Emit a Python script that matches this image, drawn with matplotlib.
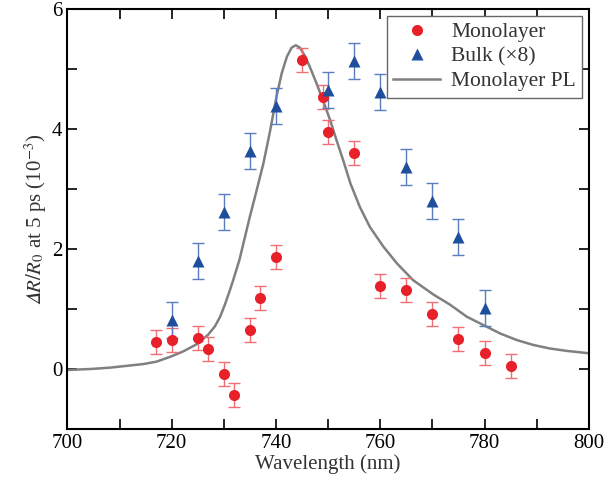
import numpy as np
import matplotlib
matplotlib.use('agg')
import matplotlib.pyplot as plt

plt.rcParams['font.family'] = ['Liberation Serif', 'DejaVu Serif']
plt.rcParams['mathtext.fontset'] = 'stix'

# monolayer pump-probe signal
mono_wl = [717, 720, 725, 727, 730, 732, 735, 737, 740, 745, 749, 750, 755,
           760, 765, 770, 775, 780, 785]
mono_val = [0.44, 0.48, 0.52, 0.33, -0.08, -0.43, 0.64, 1.19, 1.87, 5.16, 4.53,
            3.95, 3.61, 1.39, 1.31, 0.92, 0.50, 0.26, 0.04]
mono_err = [0.2] * len(mono_wl)

# bulk signal (x8)
bulk_wl = [720, 725, 730, 735, 740, 750, 755, 760, 765, 770, 775, 780]
bulk_val = [0.82, 1.80, 2.61, 3.64, 4.38, 4.65, 5.14, 4.62, 3.37, 2.80, 2.20, 1.01]
bulk_err = [0.3] * len(bulk_wl)

# monolayer PL (scaled)
pl_wl = [700, 705, 708.2, 711.4, 714.6, 717.1, 720, 722.2, 724.8, 727, 728.3,
         729.3, 730.2, 731.2, 731.8, 733, 735, 736.3, 737.6, 738.9, 740.1,
         741.1, 742.1, 743.0, 743.8, 744.6, 745.5, 746.5, 747.8, 749.1, 750.4,
         751.6, 752.9, 754.3, 756.1, 758.0, 760.6, 763.2, 766.3, 770.2, 773.4,
         776.6, 779.8, 783, 786.2, 789.3, 792.5, 795.7, 800]
pl_val = [-0.02, 0.0, 0.02, 0.05, 0.08, 0.12, 0.21, 0.29, 0.41, 0.57, 0.71,
          0.87, 1.07, 1.32, 1.48, 1.82, 2.54, 2.98, 3.43, 3.98, 4.54,
          4.93, 5.21, 5.36, 5.40, 5.36, 5.23, 5.04, 4.76, 4.46, 4.15,
          3.82, 3.48, 3.09, 2.70, 2.37, 2.04, 1.76, 1.48, 1.24, 1.07,
          0.87, 0.73, 0.59, 0.48, 0.40, 0.34, 0.30, 0.26]

red = '#e8202a'
red_err = '#ef6f74'
blue = '#1f4e9c'
blue_err = '#5a7dbf'

fig = plt.figure(figsize=(6.07, 4.90), dpi=100)
ax = fig.add_axes([0.111, 0.125, 0.859, 0.856])

pl_line, = ax.plot(pl_wl, pl_val, color='#808080', lw=1.8, label='Monolayer PL',
                   zorder=2, solid_joinstyle='round')

ax.errorbar(mono_wl, mono_val, yerr=mono_err, fmt='none', ecolor=red_err,
            elinewidth=1.0, capsize=4, capthick=1.0, zorder=3)
ax.errorbar(bulk_wl, bulk_val, yerr=bulk_err, fmt='none', ecolor=blue_err,
            elinewidth=1.0, capsize=4, capthick=1.0, zorder=3)
mono_pts, = ax.plot(mono_wl, mono_val, 'o', color=red, ms=8, mec='none',
                    label='Monolayer', zorder=4)
bulk_pts, = ax.plot(bulk_wl, bulk_val, '^', color=blue, ms=9, mec='none',
                    label='Bulk (×8)', zorder=4)

ax.set_xlim(700, 800)
ax.set_ylim(-1, 6)
ax.set_xticks([700, 720, 740, 760, 780, 800])
ax.set_xticks([710, 730, 750, 770, 790], minor=True)
ax.set_yticks([0, 2, 4, 6])
ax.set_yticks([-1, 1, 3, 5], minor=True)
ax.tick_params(which='both', direction='in', top=True, right=True,
               width=1.2, labelsize=15)
ax.tick_params(which='both', length=7)
for s in ax.spines.values():
    s.set_linewidth(1.5)

ax.set_xlabel('Wavelength (nm)', fontsize=15, labelpad=1, color='#333333')
ax.set_ylabel('$\U0001D6E5\\mathit{R/R}_0$ at 5 ps (10$^{-3}$)', fontsize=15,
              labelpad=2, color='#333333')

leg = ax.legend(handles=[mono_pts, bulk_pts, pl_line], loc='upper right',
                fontsize=15.5, frameon=True, fancybox=False, framealpha=1,
                edgecolor='#666666', handlelength=2.2, handletextpad=0.5,
                borderpad=0.3, labelspacing=0.2, borderaxespad=0.3)
leg.get_frame().set_linewidth(1.0)
for t in leg.get_texts():
    t.set_color('#333333')

fig.savefig('out.png', dpi=100)
